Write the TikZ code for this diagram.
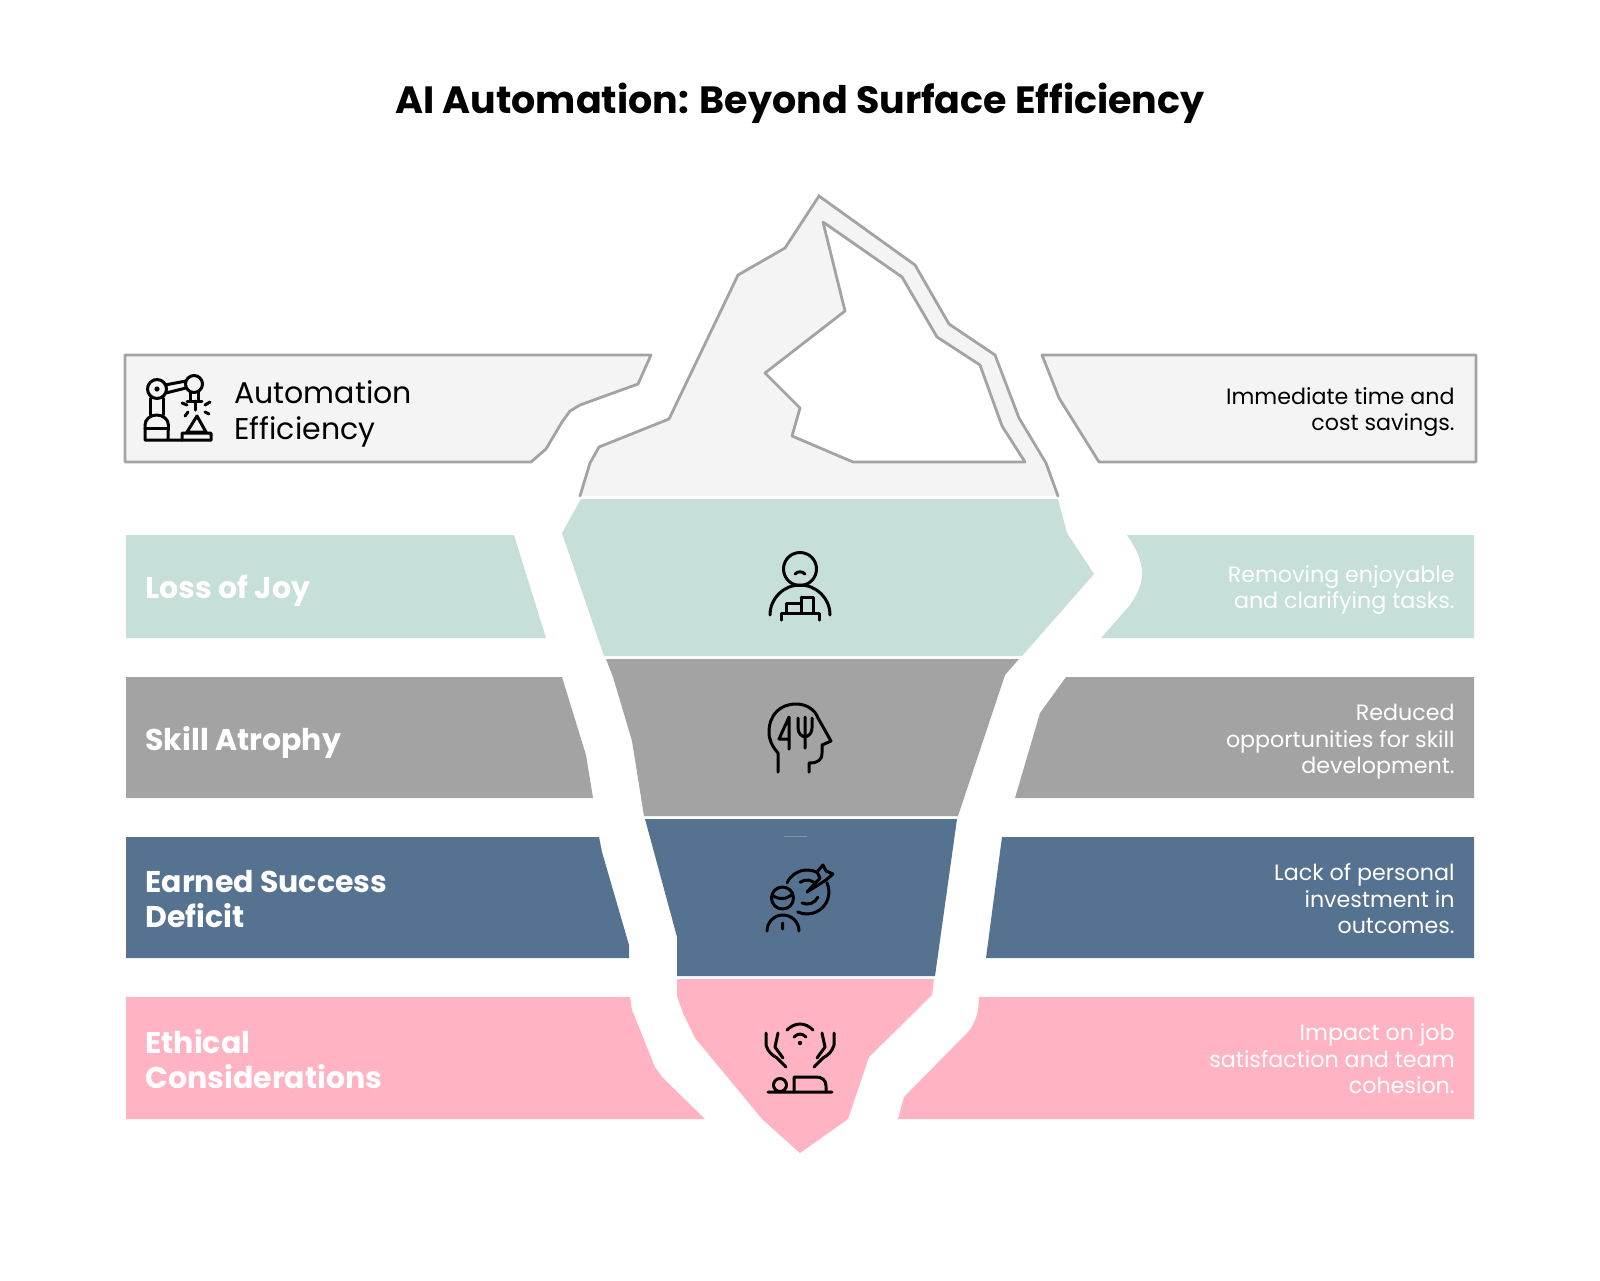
\documentclass[tikz,border=0pt]{standalone}
\usepackage{fontspec}
\setmainfont{Poppins}
\usepackage{tkz-euclide}
\definecolor{IceClr}{HTML}{F4F4F4}
\definecolor{EdgeClr}{HTML}{A3A3A3}
\definecolor{JoyClr}{HTML}{C6DFD8}
\definecolor{SkillClr}{HTML}{A3A3A3}
\definecolor{EarnClr}{HTML}{557291}
\definecolor{EthicClr}{HTML}{FFB3C3}
\tikzset{
  IconLine/.style={line width=1.5pt,line cap=round,line join=round,black},
  TitleTxt/.style={font=\fontsize{19}{23}\bfseries\selectfont,black},
  HeadTxt/.style={anchor=west,align=left,inner sep=0pt,font=\fontsize{15}{17.6}\bfseries\selectfont,white},
  NoteTxt/.style={anchor=east,align=right,inner sep=0pt,font=\fontsize{11.1}{13.3}\selectfont,white}
}

\begin{document}
\begin{tikzpicture}[x=.5pt,y=-.5pt]
\useasboundingbox (0,0) rectangle (1600,1280);
\tkzSetUpLine[line width=1.4pt,color=EdgeClr]

% iceberg above the water
\tkzDefPoints{580/496/Ia,590/463/Ib,599/447/Ic,669/419/Id,738/275/Ie,785/248/If,819/196/Ig,
  915/265/Ih,949/324/Ii,995/355/Ij,1019/418/Ik,1046/463/Il,1058/496/Im}
\tkzDefPoints{823/222/Wa,902/277/Wb,937/337/Wc,980/365/Wd,1002/426/We,1025/462/Wf,
  853/462/Wg,792/436/Wh,800/408/Wi,765/373/Wj,845/311/Wk}
\tkzFillPolygon[fill=IceClr](Ia,Ib,Ic,Id,Ie,If,Ig,Ih,Ii,Ij,Ik,Il,Im)
\tkzDrawPolySeg(Ia,Ib,Ic,Id,Ie,If,Ig,Ih,Ii,Ij,Ik,Il,Im)
\tkzFillPolygon[fill=white](Wa,Wb,Wc,Wd,We,Wf,Wg,Wh,Wi,Wj,Wk)
\tkzDrawPolygon(Wa,Wb,Wc,Wd,We,Wf,Wg,Wh,Wi,Wj,Wk)

% top row
\tkzDefPoints{125/355/La,651/355/Lb,638/384/Lc,580/405/Ld,570/411/Le,562/422/Lf,546/449/Lg,531/462/Lh,125/462/Li}
\tkzFillPolygon[fill=IceClr](La,Lb,Lc,Ld,Le,Lf,Lg,Lh,Li)
\tkzDrawPolygon(La,Lb,Lc,Ld,Le,Lf,Lg,Lh,Li)
\tkzDefPoints{1042/355/Ra,1059/398/Rb,1099/462/Rc,1476/462/Rd,1476/355/Re}
\tkzFillPolygon[fill=IceClr](Ra,Rb,Rc,Rd,Re)
\tkzDrawPolygon(Ra,Rb,Rc,Rd,Re)

% loss of joy
\tkzDefPoints{581/499/Ja,562/533/Jb,604/656/Jc,1022/656/Jd,1094/574/Je,1067/533/Jf,1058/499/Jg}
\tkzFillPolygon[fill=JoyClr](Ja,Jb,Jc,Jd,Je,Jf,Jg)
\tkzDefPoints{126/535/JLa,514/535/JLb,546/638/JLc,126/638/JLd}
\tkzFillPolygon[fill=JoyClr](JLa,JLb,JLc,JLd)
\fill[JoyClr] (1127,535) .. controls (1136,548) and (1142,560) .. (1142,574)
  .. controls (1142,586) and (1136,596) .. (1130,605) -- (1101,638) -- (1474,638) -- (1474,535) -- cycle;

% skill atrophy
\tkzDefPoints{606/659/Sa,613/677/Sb,632/741/Sc,644/816/Sd,958/816/Se,1005/675/Sf,1019/659/Sg}
\tkzFillPolygon[fill=SkillClr](Sa,Sb,Sc,Sd,Se,Sf,Sg)
\tkzDefPoints{126/677/SLa,562/677/SLb,586/755/SLc,593/798/SLd,126/798/SLe}
\tkzFillPolygon[fill=SkillClr](SLa,SLb,SLc,SLd,SLe)
\tkzDefPoints{1066/677/SRa,1040/713/SRb,1015/798/SRc,1474/798/SRd,1474/677/SRe}
\tkzFillPolygon[fill=SkillClr](SRa,SRb,SRc,SRd,SRe)

% earned success
\tkzDefPoints{645/819/Ea,648/830/Eb,677/937/Ec,677/976/Ed,935/976/Ee,957/819/Ef}
\tkzFillPolygon[fill=EarnClr](Ea,Eb,Ec,Ed,Ee,Ef)
\tkzDefPoints{126/837/ELa,599/837/ELb,602/852/ELc,629/945/ELd,629/958/ELe,126/958/ELf}
\tkzFillPolygon[fill=EarnClr](ELa,ELb,ELc,ELd,ELe,ELf)
\tkzDefPoints{1002/837/ERa,986/958/ERb,1474/958/ERc,1474/837/ERd}
\tkzFillPolygon[fill=EarnClr](ERa,ERb,ERc,ERd)
\draw[line width=.5pt,EarnClr!75!white] (784,836) -- (807,836);

% ethical considerations
\tkzDefPoints{677/979/Ta,677/996/Tb,683/1013/Tc,695/1038/Td,762/1119/Te,800/1153/Tf,848/1119/Tg,
  869/1057/Th,932/995/Ti,934/979/Tj}
\tkzFillPolygon[fill=EthicClr](Ta,Tb,Tc,Td,Te,Tf,Tg,Th,Ti,Tj)
\tkzDefPoints{126/997/TLa,630/997/TLb,632/1010/TLc,655/1067/TLd,662/1077/TLe,705/1119/TLf,126/1119/TLg}
\tkzFillPolygon[fill=EthicClr](TLa,TLb,TLc,TLd,TLe,TLf,TLg)
\fill[EthicClr] (979,997) .. controls (979,1012) and (975,1025) .. (967,1033)
  -- (904,1097) -- (898,1119) -- (1474,1119) -- (1474,997) -- cycle;

% texts
\node[TitleTxt] (title) at (800,103) {AI Automation: Beyond Surface Efficiency};
\node[HeadTxt,black,font=\fontsize{15}{17.6}\selectfont] (effName) at (234,414) {Automation\\Efficiency};
\node[HeadTxt] (joyName) at (145,591) {Loss of Joy};
\node[HeadTxt] (skillName) at (145,742) {Skill Atrophy};
\node[HeadTxt] (earnName) at (145,899) {Earned Success\\Deficit};
\node[HeadTxt] (ethicName) at (145,1059) {Ethical\\Considerations};
\node[NoteTxt,black] (effNote) at (1455,412) {Immediate time and\\cost savings.};
\node[NoteTxt] (joyNote) at (1455,590) {Removing enjoyable\\and clarifying tasks.};
\node[NoteTxt] (skillNote) at (1455,742) {Reduced\\opportunities for skill\\development.};
\node[NoteTxt] (earnNote) at (1455,899) {Lack of personal\\investment in\\outcomes.};
\node[NoteTxt] (ethicNote) at (1455,1059) {Impact on job\\satisfaction and team\\cohesion.};

% robot arm
\draw[IconLine] (145,440) -- (211,440) (145,440) -- (145,425) arc (180:360:11.7 and 10) -- (168,440);
\draw[IconLine] (145,428) -- (168,428) (150,415) -- (150,398) (163,415) -- (163,398);
\draw[IconLine] (157,389) circle (9.5) (165,385) -- (186,381) (166,393) -- (186,388) (194,384) circle (8.5);
\fill (157,389) circle (2.6);
\draw[IconLine] (190,392) -- (190,400) (198,392) -- (198,400) (187,401) -- (202,401) (195,401) -- (195,410);
\draw[IconLine] (182,403) -- (187,405) (188,412) -- (185,416) (205,412) -- (209,414) (205,405) -- (210,402);
\draw[IconLine] (197,416) -- (187,432) -- (206,432) -- cycle (182,440) -- (182,433) -- (211,433) -- (211,440);

% sad person
\draw[IconLine] (800,569) circle (16.5) (795,574) .. controls (798,571) and (802,571) .. (805,574);
\draw[IconLine] (770,615) arc (180:360:30);
\draw[IconLine] (781,620) -- (781,613) -- (819,613) -- (819,620);
\draw[IconLine] (786,613) -- (786,603) -- (801,603) -- (801,613) (801,597) -- (813,597) -- (813,613) (801,603) -- (801,597);

% head with fork and knife
\draw[IconLine] (778,772) -- (778,753) .. controls (772,746) and (769,740) .. (769,732)
  .. controls (769,715) and (780,704) .. (796,704) .. controls (807,704) and (815,710) .. (818,718)
  -- (831,741) -- (822,745) -- (822,753) .. controls (822,760) and (818,763) .. (809,763) -- (809,772);
\draw[IconLine] (789,749) -- (789,717) -- (779,739) -- (789,739);
\draw[IconLine] (805,748) -- (805,717) (798,718) -- (798,728) .. controls (798,733) and (801,736) .. (805,737)
  .. controls (809,736) and (812,733) .. (812,728) -- (812,718);

% person and target
\draw[IconLine] (782.5,898) circle (11) (772,895) .. controls (778,900) and (788,900) .. (793,893);
\draw[IconLine] (767,931) arc (180:360:16) (782.7,923) -- (782.7,929);
\draw[IconLine] (787.1,882.7) arc (205:300:22) (826.9,882.7) arc (-25:115:22);
\draw[IconLine] (800.1,882.2) arc (235:325:12) (817.9,897.1) arc (25:115:12);
\draw[IconLine] (807,892) -- (820,878) -- (817,872) -- (823,865) -- (826,871) -- (833,874) -- (826,880) -- cycle;

% hands over patient
\draw[IconLine] (787,1030) .. controls (795,1022) and (805,1022) .. (813,1030);
\draw[IconLine] (794,1037) .. controls (798,1033) and (802,1033) .. (806,1037);
\fill (800,1043) circle (2.2);
\draw[IconLine] (766,1033) -- (766,1045) .. controls (768,1052) and (772,1055) .. (777,1058) -- (786,1067);
\draw[IconLine] (778,1033) -- (775,1047) -- (783,1058);
\draw[IconLine] (834,1033) -- (834,1045) .. controls (832,1052) and (828,1055) .. (823,1058) -- (814,1067);
\draw[IconLine] (822,1033) -- (825,1047) -- (817,1058);
\draw[IconLine] (768,1092) -- (832,1092) (780,1085) circle (6.5);
\draw[IconLine] (794,1092) -- (794,1077) -- (816,1077) .. controls (822,1077) and (826,1080) .. (826,1086) -- (826,1092);

\end{tikzpicture}
\end{document}
